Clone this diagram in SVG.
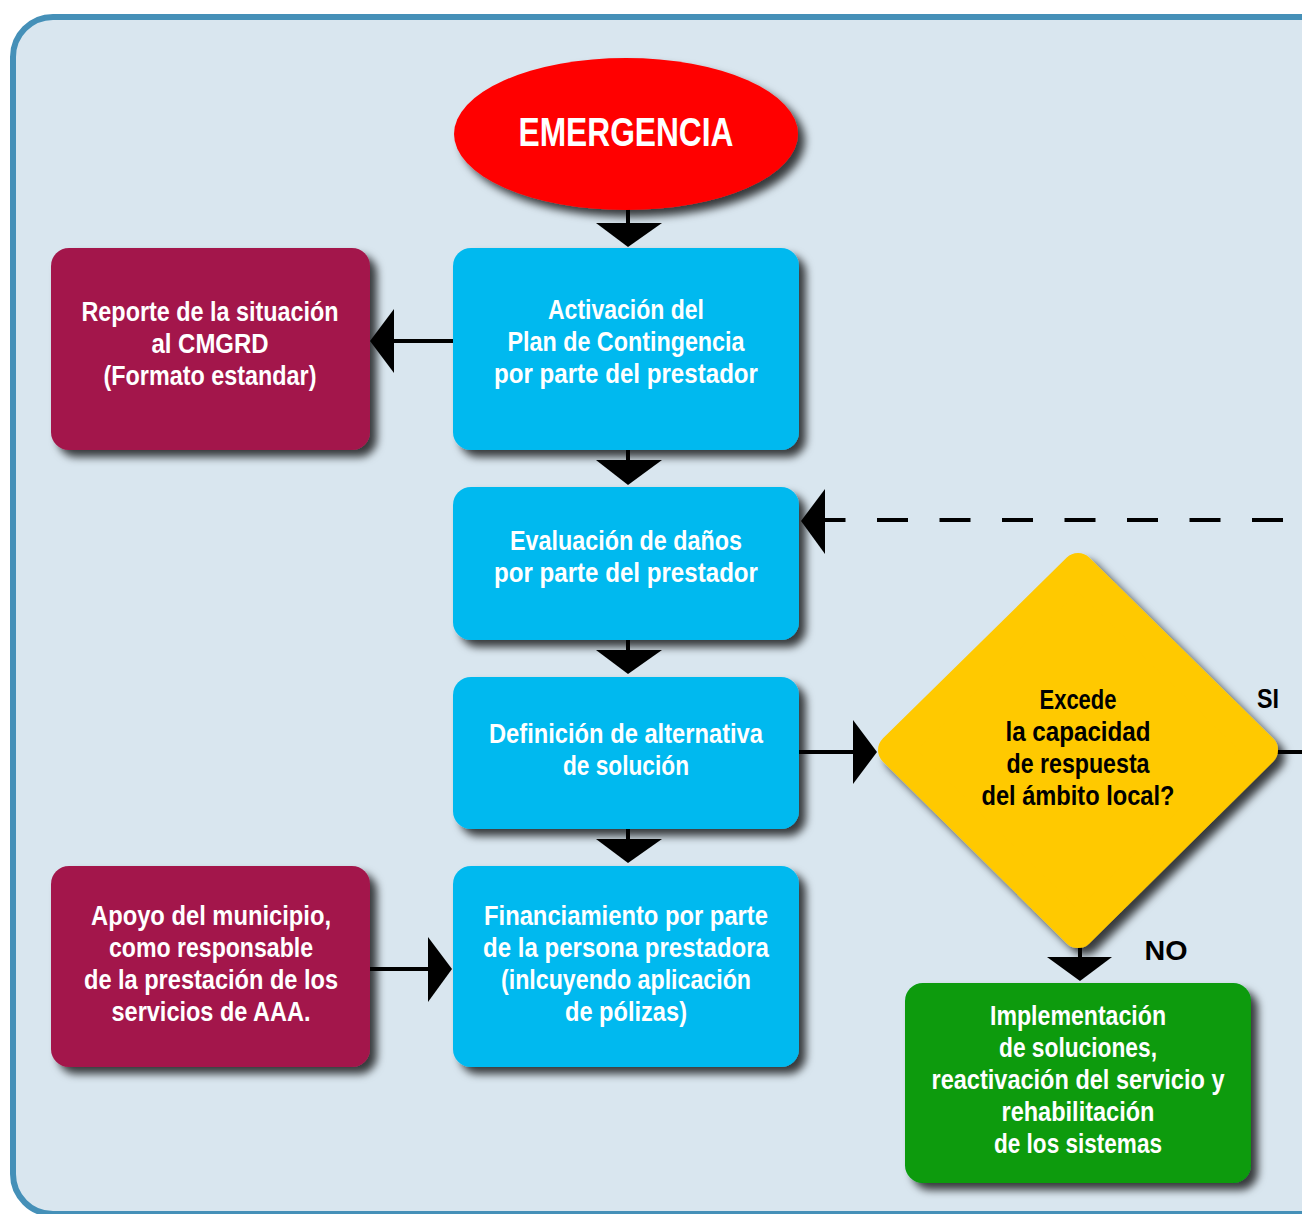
<svg xmlns="http://www.w3.org/2000/svg" width="1302" height="1214" viewBox="0 0 1302 1214">
<defs>
<filter id="sh" x="-10%" y="-10%" width="130%" height="130%">
<feDropShadow dx="7" dy="7" stdDeviation="4" flood-color="#000" flood-opacity="0.75"/>
</filter>
<style>
.t{font-family:"Liberation Sans",Arial,sans-serif;font-weight:bold;font-size:27px;fill:#fff;text-anchor:middle}
.big{font-size:40px}
.k{fill:#000}
.ln{stroke:#000;stroke-width:4;fill:none}
.ah{fill:#000}
.blue{fill:#00b9ef}
.red{fill:#a3174b}
</style>
</defs>
<rect x="13" y="17" width="1400" height="1197" rx="40" fill="#d9e6ef" stroke="#4590b8" stroke-width="6"/>

<g id="connectors">
<line class="ln" x1="628" y1="205" x2="628" y2="225"/>
<polygon class="ah" points="596,223 662,223 628,247"/>
<line class="ln" x1="453" y1="341" x2="392" y2="341"/>
<polygon class="ah" points="394,309 394,373 370,341"/>
<line class="ln" x1="628" y1="448" x2="628" y2="462"/>
<polygon class="ah" points="596,460 662,460 628,485"/>
<path class="ln" d="M1283 520 H825" stroke-dasharray="31 31.5"/>
<polygon class="ah" points="825,489 825,554 801,521"/>
<line class="ln" x1="628" y1="638" x2="628" y2="652"/>
<polygon class="ah" points="596,650 662,650 628,674"/>
<line class="ln" x1="799" y1="752" x2="855" y2="752"/>
<polygon class="ah" points="853,720 853,784 877,752"/>
<line class="ln" x1="628" y1="827" x2="628" y2="841"/>
<polygon class="ah" points="596,839 662,839 628,863"/>
<line class="ln" x1="370" y1="969" x2="430" y2="969"/>
<polygon class="ah" points="428,937 428,1002 452,969"/>
<line class="ln" x1="1270" y1="752" x2="1302" y2="752"/>
<line class="ln" x1="1080" y1="940" x2="1080" y2="959"/>
<polygon class="ah" points="1047,957 1112,957 1080,981"/>
<text class="t k" x="1268" y="708" textLength="22" lengthAdjust="spacingAndGlyphs">SI</text>
<text class="t k" x="1166" y="960" textLength="43" lengthAdjust="spacingAndGlyphs">NO</text>
</g>

<g id="emergencia">
<ellipse cx="626" cy="134" rx="172" ry="76" fill="#ff0000" filter="url(#sh)"/>
<text class="t big" x="626" y="146" textLength="215" lengthAdjust="spacingAndGlyphs">EMERGENCIA</text>
</g>

<g id="activacion">
<rect class="blue" x="453" y="248" width="346" height="202" rx="18" filter="url(#sh)"/>
<text class="t" x="626" y="319" textLength="156" lengthAdjust="spacingAndGlyphs">Activación del</text>
<text class="t" x="626" y="351" textLength="237" lengthAdjust="spacingAndGlyphs">Plan de Contingencia</text>
<text class="t" x="626" y="383" textLength="264" lengthAdjust="spacingAndGlyphs">por parte del prestador</text>
</g>

<g id="reporte">
<rect class="red" x="51" y="248" width="319" height="202" rx="18" filter="url(#sh)"/>
<text class="t" x="210" y="321" textLength="257" lengthAdjust="spacingAndGlyphs">Reporte de la situación</text>
<text class="t" x="210" y="353" textLength="117" lengthAdjust="spacingAndGlyphs">al CMGRD</text>
<text class="t" x="210" y="385" textLength="213" lengthAdjust="spacingAndGlyphs">(Formato estandar)</text>
</g>

<g id="evaluacion">
<rect class="blue" x="453" y="487" width="346" height="153" rx="18" filter="url(#sh)"/>
<text class="t" x="626" y="550" textLength="232" lengthAdjust="spacingAndGlyphs">Evaluación de daños</text>
<text class="t" x="626" y="582" textLength="264" lengthAdjust="spacingAndGlyphs">por parte del prestador</text>
</g>

<g id="definicion">
<rect class="blue" x="453" y="677" width="346" height="152" rx="18" filter="url(#sh)"/>
<text class="t" x="626" y="743" textLength="274" lengthAdjust="spacingAndGlyphs">Definición de alternativa</text>
<text class="t" x="626" y="775" textLength="126" lengthAdjust="spacingAndGlyphs">de solución</text>
</g>

<g id="financiamiento">
<rect class="blue" x="453" y="866" width="346" height="201" rx="18" filter="url(#sh)"/>
<text class="t" x="626" y="925" textLength="284" lengthAdjust="spacingAndGlyphs">Financiamiento por parte</text>
<text class="t" x="626" y="957" textLength="286" lengthAdjust="spacingAndGlyphs">de la persona prestadora</text>
<text class="t" x="626" y="989" textLength="250" lengthAdjust="spacingAndGlyphs">(inlcuyendo aplicación</text>
<text class="t" x="626" y="1021" textLength="122" lengthAdjust="spacingAndGlyphs">de pólizas)</text>
</g>

<g id="apoyo">
<rect class="red" x="51" y="866" width="319" height="201" rx="18" filter="url(#sh)"/>
<text class="t" x="211" y="925" textLength="240" lengthAdjust="spacingAndGlyphs">Apoyo del municipio,</text>
<text class="t" x="211" y="957" textLength="204" lengthAdjust="spacingAndGlyphs">como responsable</text>
<text class="t" x="211" y="989" textLength="254" lengthAdjust="spacingAndGlyphs">de la prestación de los</text>
<text class="t" x="211" y="1021" textLength="199" lengthAdjust="spacingAndGlyphs">servicios de AAA.</text>
</g>

<g id="decision">
<polygon points="1078,569 1262,750 1078,932 894,750" fill="#ffc906" stroke="#ffc906" stroke-width="32" stroke-linejoin="round" filter="url(#sh)"/>
<text class="t k" x="1078" y="709" textLength="77" lengthAdjust="spacingAndGlyphs">Excede</text>
<text class="t k" x="1078" y="741" textLength="145" lengthAdjust="spacingAndGlyphs">la capacidad</text>
<text class="t k" x="1078" y="773" textLength="143" lengthAdjust="spacingAndGlyphs">de respuesta</text>
<text class="t k" x="1078" y="805" textLength="193" lengthAdjust="spacingAndGlyphs">del ámbito local?</text>
</g>

<g id="implementacion">
<rect x="905" y="983" width="346" height="200" rx="18" fill="#079b0c" filter="url(#sh)"/>
<text class="t" x="1078" y="1025" textLength="176" lengthAdjust="spacingAndGlyphs">Implementación</text>
<text class="t" x="1078" y="1057" textLength="158" lengthAdjust="spacingAndGlyphs">de soluciones,</text>
<text class="t" x="1078" y="1089" textLength="293" lengthAdjust="spacingAndGlyphs">reactivación del servicio y</text>
<text class="t" x="1078" y="1121" textLength="153" lengthAdjust="spacingAndGlyphs">rehabilitación</text>
<text class="t" x="1078" y="1153" textLength="168" lengthAdjust="spacingAndGlyphs">de los sistemas</text>
</g>
</svg>
